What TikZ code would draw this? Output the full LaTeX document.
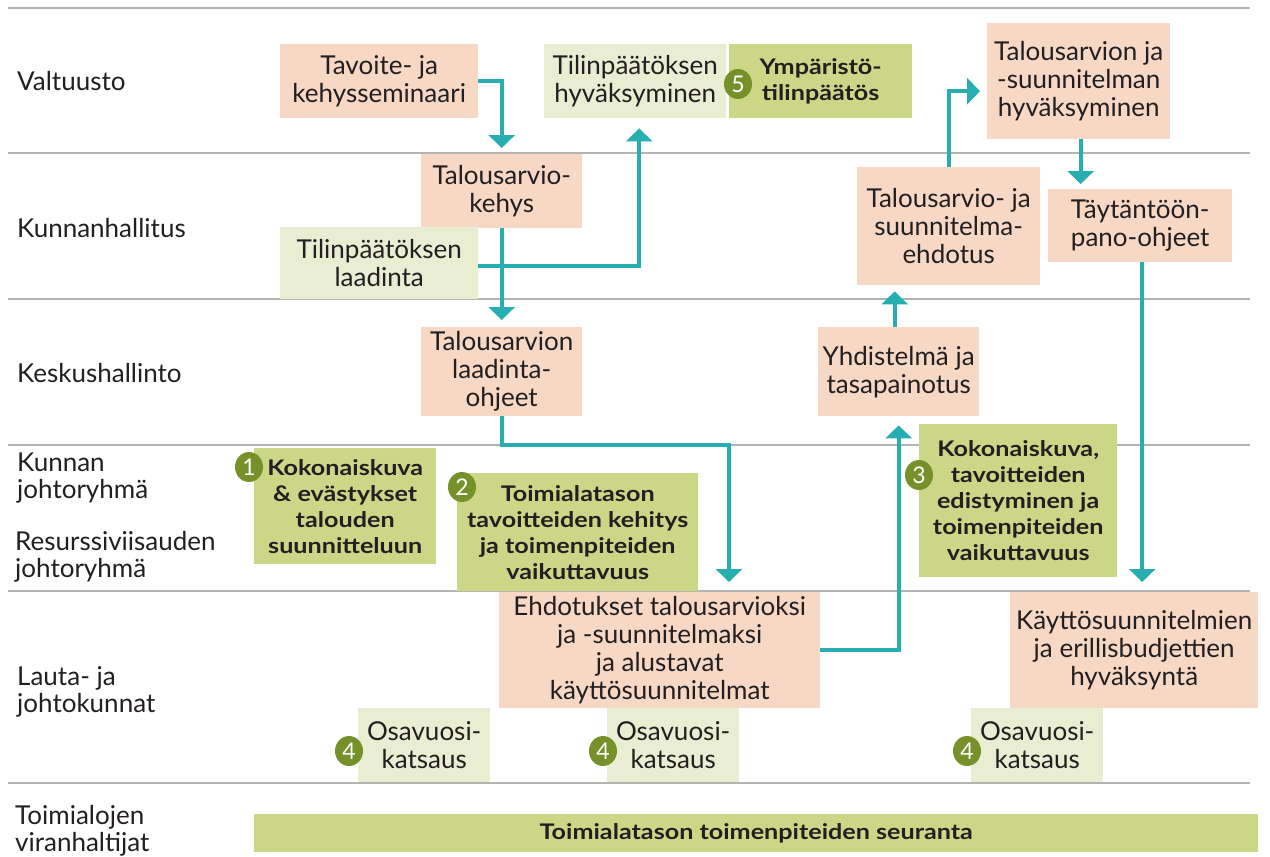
\documentclass[tikz,border=0pt]{standalone}
\usepackage{fontspec}
\setmainfont{Lato}
\newfontfamily\widelato{Lato}[FakeStretch=1.17]
\usetikzlibrary{arrows.meta,shapes.geometric,calc}
\definecolor{peach}{HTML}{F6D8C4}
\definecolor{palegreen}{HTML}{E9EDD1}
\definecolor{leaf}{HTML}{CBD786}
\definecolor{badgegreen}{HTML}{76912A}
\definecolor{flowteal}{HTML}{26AEB0}
\definecolor{rulegray}{HTML}{B5B3B0}
\definecolor{ink}{HTML}{231F20}
\newcommand{\regfont}{\fontsize{26}{28}\selectfont}
\newcommand{\boldfont}{\widelato\fontsize{21.5}{26}\selectfont\bfseries}
\begin{document}
\begin{tikzpicture}[x=1pt,y=-1pt,
  cell/.style={anchor=north west, inner sep=0pt, align=center, text=ink, font=\regfont},
  peachbox/.style={cell, fill=peach},
  palebox/.style={cell, fill=palegreen},
  leafbox/.style={cell, fill=leaf, font=\boldfont},
  rowlabel/.style={anchor=base west, inner sep=0pt, align=left, text=ink, font=\fontsize{26}{26.5}\selectfont},
  badge/.style={ellipse, fill=badgegreen, text=white, inner sep=0pt,
    minimum width=28pt, minimum height=30pt, font=\fontsize{23}{23}\selectfont},
  lane/.style={draw=rulegray, line width=1.6pt},
  arr/.style={draw=flowteal, line width=4pt, -{Triangle[width=26pt,length=13pt]}}]
\useasboundingbox (0,0) rectangle (1270,857);

% lane separators
\foreach \yy in {8,153,299,445,591,783}
  \draw[lane] (8,\yy) -- (1250,\yy);

% row labels (base anchor sits on the last line)
\node[rowlabel] (lval) at (17,90) {Valtuusto};
\node[rowlabel] (lkh) at (17,237) {Kunnanhallitus};
\node[rowlabel] (lksh) at (17,382) {Keskushallinto};
\node[rowlabel] (ljr) at (17,498) {Kunnan\\johtoryhmä};
\node[rowlabel] (lrv) at (15,577) {Resurssiviisauden\\johtoryhmä};
\node[rowlabel] (llj) at (17,712) {Lauta- ja\\johtokunnat};
\node[rowlabel] (ltv) at (15,851) {Toimialojen\\viranhaltijat};

% process boxes
\node[peachbox, minimum width=198pt, minimum height=74pt] (tav) at (280,44) {Tavoite- ja\\kehysseminaari};
\node[palebox, minimum width=182pt, minimum height=74pt] (thyv) at (544,44) {Tilinpäätöksen\\hyväksyminen};
\node[leafbox, minimum width=183pt, minimum height=74pt] (ymp) at (729,44) {Ympäristö-\\tilinpäätös};
\node[peachbox, minimum width=183pt, minimum height=116pt] (hyv) at (987,23) {Talousarvion ja\\-suunnitelman\\hyväksyminen};
\node[peachbox, minimum width=161pt, minimum height=74pt] (kehys) at (421,154) {Talousarvio-\\kehys};
\node[palebox, minimum width=198pt, minimum height=72pt] (tlaad) at (280,227) {Tilinpäätöksen\\laadinta};
\node[peachbox, minimum width=183pt, minimum height=118pt] (tse) at (857,167) {Talousarvio- ja\\suunnitelma-\\ehdotus};
\node[peachbox, minimum width=184pt, minimum height=73pt] (tay) at (1048,189) {Täytäntöön-\\pano-ohjeet};
\node[peachbox, minimum width=161pt, minimum height=89pt] (ohj) at (421,327) {Talousarvion\\laadinta-\\ohjeet};
\node[peachbox, minimum width=161pt, minimum height=89pt] (yhd) at (818,327) {Yhdistelmä ja\\tasapainotus};
\node[leafbox, minimum width=182pt, minimum height=116pt] (kok1) at (254,448) {Kokonaiskuva\\\& evästykset\\talouden\\suunnitteluun};
\node[leafbox, minimum width=241pt, minimum height=118pt] (tav2) at (457,473) {Toimialatason\\tavoitteiden kehitys\\ja toimenpiteiden\\vaikuttavuus};
\node[leafbox, minimum width=198pt, minimum height=153pt] (kok3) at (919,424) {Kokonaiskuva,\\tavoitteiden\\edistyminen ja\\toimenpiteiden\\vaikuttavuus};
\node[peachbox, minimum width=321pt, minimum height=116pt] (ehd) at (499,592) {Ehdotukset talousarvioksi\\ja -suunnitelmaksi\\ja alustavat\\käyttösuunnitelmat};
\node[peachbox, minimum width=248pt, minimum height=116pt] (kayt) at (1010,592) {Käyttösuunnitelmien\\ja erillisbudjettien\\hyväksyntä};
\node[palebox, minimum width=132pt, minimum height=74pt] (osa1) at (358,708) {Osavuosi-\\katsaus};
\node[palebox, minimum width=132pt, minimum height=74pt] (osa2) at (607,708) {Osavuosi-\\katsaus};
\node[palebox, minimum width=132pt, minimum height=74pt] (osa3) at (971,708) {Osavuosi-\\katsaus};
\node[leafbox, minimum width=1004pt, minimum height=38pt] (seur) at (254,814) {Toimialatason toimenpiteiden seuranta};

% numbered badges
\node[badge] (b5) at (738,84) {5};
\node[badge] (b1) at (249,467) {1};
\node[badge] (b2) at (462,487) {2};
\node[badge] (b3) at (919,475) {3};
\node[badge] (b4a) at (349,751) {4};
\node[badge] (b4b) at (603,751) {4};
\node[badge] (b4c) at (967,751) {4};

% flow arrows
\coordinate (j1) at (729,445);
\coordinate (p6) at ([xshift=-4pt]yhd.north);
\coordinate (p8) at ([xshift=2pt]hyv.south);
\coordinate (p9) at ([xshift=2pt]tay.south);
\draw[arr, shorten >=6pt] (tav.east) -| (kehys.north);
\draw[arr, shorten >=7pt] (kehys.south) -- (ohj.north);
\draw[arr, shorten >=10pt] ([yshift=-3pt]tlaad.east) -| ([xshift=4pt]thyv.south);
\draw[arr, shorten >=10pt] (ohj.south) |- (j1) -- (j1 |- ehd.north);
\draw[arr, shorten >=9pt] (ehd.east) -| (yhd.south);
\draw[arr, shorten >=6pt] (p6) -- (p6 |- tse.south);
\draw[arr, shorten >=7pt] (tse.north) |- ([yshift=-10pt]hyv.west);
\draw[arr, shorten >=5pt] (p8) -- (p8 |- tay.north);
\draw[arr, shorten >=10pt] (p9) -- (p9 |- kayt.north);
\end{tikzpicture}
\end{document}
